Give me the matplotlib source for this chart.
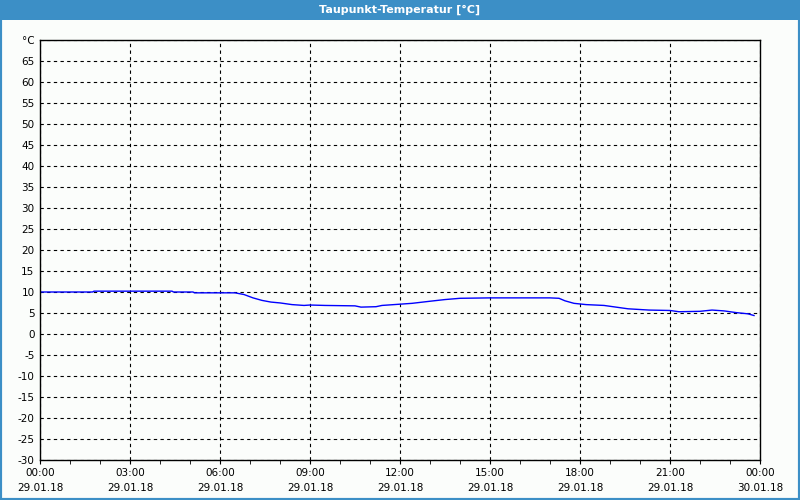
import matplotlib
matplotlib.use("Agg")
import matplotlib.pyplot as plt
import matplotlib.dates as mdates
from matplotlib.patches import Rectangle
import numpy as np
from datetime import datetime, timedelta

title = "Taupunkt-Temperatur [°C]"
hours = [0.0, 1.75, 1.8, 4.4, 4.45, 5.1, 5.15, 6.5, 6.8, 7.1, 7.4, 7.7, 8.0, 8.4, 8.8, 9.0,
         9.5, 10.5, 10.7, 11.2, 11.4, 12.0, 12.4, 13.0, 13.5, 14.0, 15.0, 16.0, 17.0, 17.3,
         17.5, 17.8, 18.2, 18.8, 19.2, 19.6, 20.3, 21.0, 21.3, 22.0, 22.4, 22.8, 23.2, 23.6, 23.8]
values = [10.0, 10.0, 10.2, 10.2, 10.0, 10.0, 9.8, 9.8, 9.4, 8.6, 8.0, 7.6, 7.4, 7.0, 6.8, 6.9,
          6.8, 6.7, 6.4, 6.5, 6.8, 7.1, 7.3, 7.8, 8.2, 8.5, 8.6, 8.6, 8.6, 8.5,
          7.9, 7.3, 7.0, 6.8, 6.4, 6.0, 5.7, 5.6, 5.3, 5.4, 5.7, 5.5, 5.1, 4.8, 4.4]
y_ticks = [-30, -25, -20, -15, -10, -5, 0, 5, 10, 15, 20, 25, 30, 35, 40, 45, 50, 55, 60, 65, 70]

start = datetime(2018, 1, 29, 0, 0)
times = [start + timedelta(hours=h) for h in hours]

bg = "#fbfdfb"
blue = "#3c8fc6"

fig = plt.figure(figsize=(8, 5), dpi=100, facecolor=bg)
# window border and title bar
fig.patches.append(Rectangle((0, 0), 1, 1, transform=fig.transFigure, facecolor=bg,
                             edgecolor=blue, linewidth=3, zorder=-10))
fig.patches.append(Rectangle((0, 1 - 20 / 500), 1, 20 / 500, transform=fig.transFigure,
                             facecolor=blue, edgecolor="none", zorder=-5))
fig.text(0.5, 1 - 10 / 500, title, ha="center", va="center", color="white",
         fontsize=8, fontweight="bold", family="DejaVu Sans")

ax = fig.add_axes([40 / 800, 40 / 500, 720 / 800, 420 / 500])
ax.set_facecolor(bg)
ax.plot(times, values, color="#0000ff", linewidth=1.0)

ax.set_xlim(start, start + timedelta(hours=24))
ax.set_ylim(-30, 70)
ax.set_yticks(y_ticks)
ax.set_yticklabels([str(v) for v in y_ticks[:-1]] + ["°C"])
ax.tick_params(axis="y", length=0, pad=4, labelsize=7.5)

ax.xaxis.set_major_locator(mdates.HourLocator(byhour=range(0, 24, 3)))
ax.xaxis.set_minor_locator(mdates.HourLocator())

def fmt(x, pos=None):
    d = mdates.num2date(x)
    return d.strftime("%H:%M") + "\n" + d.strftime("%d.%m.%y")

ax.xaxis.set_major_formatter(plt.FuncFormatter(fmt))
ax.tick_params(axis="x", which="major", length=3, pad=3, labelsize=7.5)
ax.tick_params(axis="x", which="minor", length=3)
for lbl in ax.get_xticklabels():
    lbl.set_linespacing(1.55)

ax.grid(True, which="major", color="black", linestyle=(0, (3, 3)), linewidth=0.8)
for s in ax.spines.values():
    s.set_color("black")
    s.set_linewidth(1.0)

fig.savefig("out.png", dpi=100, facecolor=bg)
